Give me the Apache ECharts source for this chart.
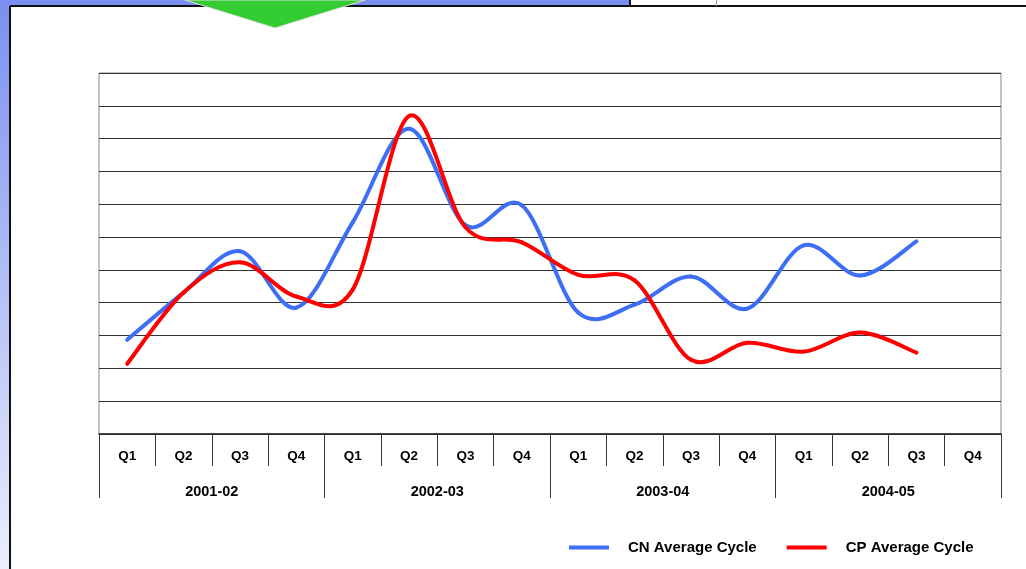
<!DOCTYPE html>
<html>
<head>
<meta charset="utf-8">
<script src="https://cdn.jsdelivr.net/npm/echarts@6/dist/echarts.min.js"></script>
<style>
html,body{margin:0;padding:0;background:#fff;}
#chart{width:1026px;height:569px;}
</style>
</head>
<body>
<div id="chart"></div>
<script>
const years = ['2001-02', '2002-03', '2003-04', '2004-05'];
const quarters = ['Q1', 'Q2', 'Q3', 'Q4'];
const cnAverageCycle = [2.87, 4.31, 5.57, 3.85, 6.45, 9.30, 6.36, 6.97, 3.70, 3.94, 4.80, 3.82, 5.75, 4.83, 5.87];
const cpAverageCycle = [2.14, 4.31, 5.23, 4.19, 4.40, 9.69, 6.30, 5.84, 4.85, 4.68, 2.26, 2.78, 2.51, 3.09, 2.48];
const seriesNames = ['CN Average Cycle', 'CP Average Cycle'];
const seriesColors = ['#3d6ef5', '#ff0000'];

const categoryKeys = [];
years.forEach(function (y) { quarters.forEach(function (q) { categoryKeys.push(y + '|' + q); }); });

const chart = echarts.init(document.getElementById('chart'), null, {renderer: 'canvas'});
const font = 'Arial, "Liberation Sans", sans-serif';

// Smoothed line (cardinal spline, like the original spreadsheet's smoothing),
// built from points placed by the chart's own axes via api.coord.
function smoothRenderer(color) {
  return function (params, api) {
    const i = params.dataIndexInside;
    const n = params.dataInsideLength;
    if (i >= n - 1) return;
    function pt(k) {
      k = Math.max(0, Math.min(n - 1, k));
      return api.coord([api.value(0, k), api.value(1, k)]);
    }
    const p0 = pt(i - 1), p1 = pt(i), p2 = pt(i + 1), p3 = pt(i + 2);
    const t = 1 / 6;
    return {
      type: 'bezierCurve',
      shape: {
        x1: p1[0], y1: p1[1], x2: p2[0], y2: p2[1],
        cpx1: p1[0] + (p2[0] - p0[0]) * t, cpy1: p1[1] + (p2[1] - p0[1]) * t,
        cpx2: p2[0] - (p3[0] - p1[0]) * t, cpy2: p2[1] - (p3[1] - p1[1]) * t
      },
      style: {stroke: color, lineWidth: 4, lineCap: 'round', fill: null}
    };
  };
}

function makeSeries(name, values, color) {
  return {
    name: name,
    type: 'custom',
    xAxisIndex: 0,
    encode: {x: 0, y: 1},
    data: values.map(function (v, k) { return [k, v]; }),
    itemStyle: {color: color},
    renderItem: smoothRenderer(color)
  };
}

chart.setOption({
  backgroundColor: '#ffffff',
  animation: false,
  graphic: [
    {type: 'rect', shape: {x: 0, y: 0, width: 10, height: 569}, z: -10,
      style: {fill: new echarts.graphic.LinearGradient(0, 0, 0, 1, [
        {offset: 0, color: '#7b8ff0'}, {offset: 1, color: '#eceffd'}])}},
    {type: 'rect', shape: {x: 0, y: 0, width: 630, height: 6}, z: -10, style: {fill: '#7b8ff0'}},
    {type: 'line', shape: {x1: 10, y1: 6, x2: 1026, y2: 6}, style: {stroke: '#111', lineWidth: 2}},
    {type: 'line', shape: {x1: 10, y1: 6, x2: 10, y2: 569}, style: {stroke: '#111', lineWidth: 2}},
    {type: 'line', shape: {x1: 630, y1: 0, x2: 630, y2: 6}, style: {stroke: '#111', lineWidth: 2}},
    {type: 'line', shape: {x1: 716.5, y1: 0, x2: 716.5, y2: 6}, style: {stroke: '#999', lineWidth: 1}},
    {type: 'polygon', shape: {points: [[185, 0], [365, 0], [275, 28]]},
      style: {fill: '#33cc33', stroke: '#e0e0e0', lineWidth: 1}}
  ],
  legend: {
    data: seriesNames,
    left: 569,
    top: 540,
    padding: 0,
    icon: 'rect',
    itemWidth: 40,
    itemHeight: 4,
    itemGap: 30,
    textStyle: {fontFamily: font, fontSize: 15, fontWeight: 'bold', color: '#000', padding: [0, 0, 0, 14]}
  },
  grid: {left: 99, right: 25, top: 73, bottom: 135, show: true, borderColor: '#888', borderWidth: 1},
  xAxis: [
    {
      type: 'category',
      data: categoryKeys,
      boundaryGap: true,
      position: 'bottom',
      axisLine: {lineStyle: {color: '#222', width: 1.5}},
      axisTick: {show: true, interval: 0, length: 32, lineStyle: {color: '#333', width: 1}},
      axisLabel: {interval: 0, margin: 15, fontFamily: font, fontSize: 13.5, fontWeight: 'bold', color: '#000',
        formatter: function (v) { return v.split('|')[1]; }},
      splitLine: {show: false}
    },
    {
      type: 'category',
      data: years,
      boundaryGap: true,
      position: 'bottom',
      offset: 32,
      axisLine: {show: false},
      axisTick: {show: true, interval: 0, length: 32, lineStyle: {color: '#333', width: 1}},
      axisLabel: {interval: 0, margin: 18, fontFamily: font, fontSize: 14.5, fontWeight: 'bold', color: '#000'},
      splitLine: {show: false}
    }
  ],
  yAxis: {
    type: 'value',
    min: 0,
    max: 11,
    interval: 1,
    axisLine: {show: false},
    axisTick: {show: false},
    axisLabel: {show: false},
    splitLine: {lineStyle: {color: '#333', width: 1}}
  },
  series: [
    makeSeries(seriesNames[0], cnAverageCycle, seriesColors[0]),
    makeSeries(seriesNames[1], cpAverageCycle, seriesColors[1])
  ]
});
</script>
</body>
</html>
